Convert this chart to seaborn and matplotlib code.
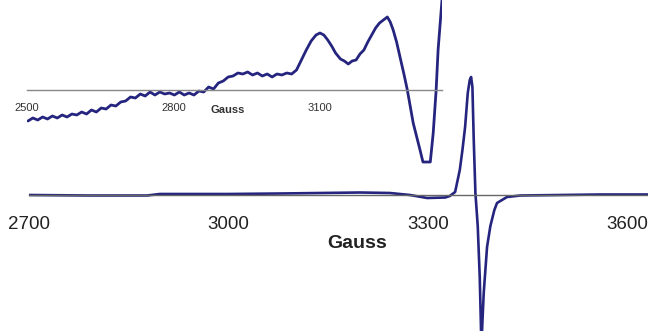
import matplotlib
matplotlib.use("Agg")
import matplotlib.pyplot as plt
import pandas as pd
import seaborn as sns

# main spectrum (Gauss, arbitrary intensity)
main_field = [2700, 2790, 2878, 2897, 3000, 3078, 3138, 3198, 3243, 3273,
              3299, 3326, 3333, 3341, 3348, 3352, 3356, 3360, 3363, 3365,
              3367, 3369, 3371.5, 3375, 3378, 3380.5, 3384, 3389, 3394, 3400,
              3404, 3419, 3439, 3499, 3559, 3631]
main_signal = [0.0, -0.005, -0.005, 0.01, 0.01, 0.015, 0.02, 0.025, 0.02, 0.0,
               -0.03, -0.025, -0.01, 0.03, 0.25, 0.45, 0.68, 1.02, 1.15, 1.18,
               1.08, 0.55, 0.02, -0.31, -0.82, -1.5, -0.98, -0.52, -0.31, -0.15,
               -0.08, -0.02, -0.005, 0.0, 0.005, 0.005]
main_ticks = [2700, 3000, 3300, 3600]

# expanded low-field region (inset), noisy trace read point by point
inset_field = [2502, 2512, 2522, 2532, 2542, 2552, 2562, 2572, 2582, 2592,
               2602, 2612, 2622, 2632, 2642, 2652, 2662, 2672, 2682, 2692,
               2702, 2712, 2722, 2732, 2742, 2752, 2762, 2772, 2782, 2792,
               2802, 2812, 2822, 2832, 2842, 2852, 2862, 2872, 2882, 2892,
               2902, 2912, 2922, 2932, 2942, 2952, 2962, 2972, 2982, 2992,
               3002, 3012, 3022, 3032, 3042, 3052, 3062, 3072, 3082, 3092,
               3100, 3108, 3116, 3124, 3132, 3142, 3150, 3158, 3166, 3174,
               3182, 3190, 3198, 3206, 3214, 3222, 3230, 3238, 3244, 3250,
               3257, 3264, 3272, 3279, 3291, 3305, 3311, 3326, 3332, 3338,
               3342, 3350, 3356]
inset_signal = [-0.31, -0.28, -0.30, -0.27, -0.29, -0.26, -0.28, -0.25, -0.27, -0.24,
                -0.25, -0.22, -0.24, -0.20, -0.22, -0.18, -0.19, -0.15, -0.16, -0.12,
                -0.11, -0.07, -0.08, -0.04, -0.06, -0.02, -0.05, -0.02, -0.04, -0.03,
                -0.05, -0.02, -0.05, -0.03, -0.05, -0.01, -0.02, 0.03, 0.01, 0.07,
                0.09, 0.13, 0.14, 0.17, 0.16, 0.18, 0.15, 0.17, 0.14, 0.16,
                0.13, 0.16, 0.15, 0.17, 0.16, 0.20, 0.30, 0.40, 0.49, 0.55,
                0.57, 0.55, 0.50, 0.44, 0.37, 0.31, 0.29, 0.26, 0.29, 0.30,
                0.36, 0.40, 0.48, 0.55, 0.62, 0.67, 0.70, 0.73, 0.68, 0.60,
                0.48, 0.33, 0.16, 0.0, -0.33, -0.60, -0.72, -0.72, -0.43, 0.0,
                0.40, 0.90, 1.6]
inset_ticks = [2500, 2800, 3100]

line_color = "#25257f"

sns.set_style("white")
plt.rcParams["font.family"] = ["Liberation Sans", "DejaVu Sans"]

main_df = pd.DataFrame({"field": main_field, "signal": main_signal})
inset_df = pd.DataFrame({"field": inset_field, "signal": inset_signal})

fig = plt.figure(figsize=(6.48, 3.31), dpi=100)

ax = fig.add_axes([28.8 / 648, 0, 1 - 28.8 / 648, 1])
ax.patch.set_alpha(0)
sns.lineplot(data=main_df, x="field", y="signal", ax=ax, color=line_color,
             linewidth=1.9, estimator=None, sort=False)
ax.set_xlim(2700, 3631)
ax.set_ylim(-1.36, 1.95)
for side in ["top", "right", "left"]:
    ax.spines[side].set_visible(False)
ax.spines["bottom"].set_position(("data", 0))
ax.spines["bottom"].set_color("#666666")
ax.spines["bottom"].set_linewidth(1.0)
ax.set_yticks([])
ax.set_xticks(main_ticks)
ax.tick_params(axis="x", direction="out", length=5, width=1, color="#555555",
               labelsize=13.5, labelcolor="#222222", pad=10)
ax.set_xlabel("")
ax.set_ylabel("")
ax.text((357 - 28.8) / (648 - 28.8), (331 - 243) / 331, "Gauss",
        transform=ax.transAxes, ha="center", va="center",
        fontsize=14, fontweight="bold", color="#222222")

ins = fig.add_axes([27 / 648, (331 - 175) / 331, 415 / 648, 175 / 331])
ins.patch.set_alpha(0)
sns.lineplot(data=inset_df, x="field", y="signal", ax=ins, color=line_color,
             linewidth=2.0, estimator=None, sort=False)
ins.set_xlim(2500, 3350)
ins.set_ylim(-0.85, 0.90)
for side in ["top", "right", "left"]:
    ins.spines[side].set_visible(False)
ins.spines["bottom"].set_position(("data", 0))
ins.spines["bottom"].set_color("#888888")
ins.spines["bottom"].set_linewidth(1.0)
ins.set_yticks([])
ins.set_xticks(inset_ticks)
ins.tick_params(axis="x", direction="out", length=2.5, width=1, color="#666666",
                labelsize=8, labelcolor="#333333", pad=7)
ins.set_xlabel("")
ins.set_ylabel("")
ins.text((228 - 27) / 415, (175 - 110) / 175, "Gauss",
         transform=ins.transAxes, ha="center", va="center",
         fontsize=8, fontweight="bold", color="#333333")

fig.savefig("out.png", dpi=100)
